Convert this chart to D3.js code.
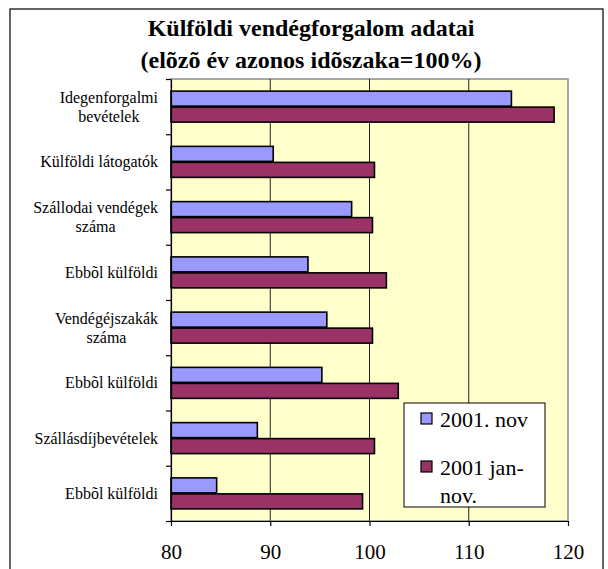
<!DOCTYPE html>
<html>
<head>
<meta charset="utf-8">
<style>
  body { margin: 0; background: #fff; }
</style>
<title>Külföldi vendégforgalom adatai</title>
</head>
<body>
<script src="https://cdn.jsdelivr.net/npm/d3@7"></script>
<script>
// chart data
var categories = ["Idegenforgalmi\nbevételek", "Külföldi látogatók", "Szállodai vendégek\nszáma",
                  "Ebbõl külföldi", "Vendégéjszakák\nszáma", "Ebbõl külföldi",
                  "Szállásdíjbevételek", "Ebbõl külföldi"];
var seriesNames = ["2001. nov", "2001 jan-\nnov."];
var novValues = [114.3, 90.3, 98.2, 93.8, 95.7, 95.2, 88.7, 84.6];
var janNovValues = [118.6, 100.5, 100.3, 101.7, 100.3, 102.9, 100.5, 99.3];
var xTicks = [80, 90, 100, 110, 120];
var colors = ["#9999ff", "#993366"];

var serif = "Liberation Serif";
var W = 608, H = 569;
var plot = {left: 171, right: 568, top: 79, bottom: 521};

var svg = d3.select("body").append("svg").attr("width", W).attr("height", H)
   .style("font-family", serif);

// outer frame
svg.append("rect").attr("x", 10).attr("y", 9).attr("width", 593).attr("height", 580)
   .attr("fill", "#fff").attr("stroke", "#000").attr("stroke-width", 1.2);

// title
var title = svg.append("text").attr("text-anchor", "middle")
   .style("font-family", serif).style("font-size", "24px").style("font-weight", "bold");
title.append("tspan").attr("x", 311).attr("y", 36).text("Külföldi vendégforgalom adatai");
title.append("tspan").attr("x", 311).attr("y", 68).text("(elõzõ év azonos idõszaka=100%)");

// scales
var x = d3.scaleLinear().domain([80, 120]).range([plot.left, plot.right]);
var y0 = d3.scaleBand().domain(d3.range(categories.length)).range([plot.top, plot.bottom]);
var y1 = d3.scaleBand().domain([0, 1]).range([0, y0.bandwidth()]).paddingOuter(0.727);
var yIdx = d3.scaleLinear().domain([0, categories.length]).range([plot.top, plot.bottom]);

// plot area
svg.append("rect").attr("x", plot.left).attr("y", plot.top)
   .attr("width", plot.right - plot.left).attr("height", plot.bottom - plot.top)
   .attr("fill", "#ffffcc").attr("stroke", "#8a8a8a").attr("stroke-width", 1.5);

// gridlines
svg.append("g").selectAll("line").data(xTicks.slice(1, -1)).join("line")
   .attr("x1", d => x(d)).attr("x2", d => x(d))
   .attr("y1", plot.top).attr("y2", plot.bottom)
   .attr("stroke", "#222").attr("stroke-width", 1);

// bars
var rows = categories.map((c, i) => ({i: i, vals: [novValues[i], janNovValues[i]]}));
var grp = svg.append("g").selectAll("g").data(rows).join("g")
   .attr("transform", d => "translate(0," + y0(d.i) + ")");
grp.selectAll("rect").data(d => d.vals.map((v, s) => ({s: s, v: v}))).join("rect")
   .attr("x", x(80))
   .attr("y", d => y1(d.s) + 0.5)
   .attr("width", d => x(d.v) - x(80))
   .attr("height", y1.bandwidth() - 1)
   .attr("fill", d => colors[d.s])
   .attr("stroke", "#000").attr("stroke-width", 1.6);

// y axis (ticks at category boundaries)
var yAxis = svg.append("g").attr("transform", "translate(" + plot.left + ",0)")
   .call(d3.axisLeft(yIdx).tickValues(d3.range(categories.length + 1))
   .tickFormat("").tickSizeInner(5).tickSizeOuter(0));
yAxis.selectAll("line, path").attr("stroke", "#000").attr("stroke-width", 1.2);

// category labels: lines centred in a block, block right edge at 158
var labelG = svg.append("g");
categories.forEach(function (c, i) {
  var lines = c.split("\n");
  var cy = y0(i) + y0.bandwidth() / 2;
  var t = labelG.append("text").attr("text-anchor", "middle")
     .style("font-family", serif).style("font-size", "16px").attr("fill", "#000");
  var spans = lines.map(function (l, k) {
    return t.append("tspan").attr("y", cy + (k - (lines.length - 1) / 2) * 19 + 5.5).text(l);
  });
  var maxW = d3.max(spans, s => s.node().getComputedTextLength());
  spans.forEach(s => s.attr("x", 158 - maxW / 2));
});

// x axis
var xAxis = svg.append("g").attr("transform", "translate(0," + plot.bottom + ")")
   .call(d3.axisBottom(x).tickValues(xTicks).tickSizeInner(5).tickSizeOuter(0).tickPadding(18));
xAxis.attr("font-family", null);
xAxis.selectAll("line, path").attr("stroke", "#000").attr("stroke-width", 1.2);
xAxis.selectAll("text").style("font-size", "21px").style("font-family", serif).attr("fill", "#000");

// legend
var lg = svg.append("g");
lg.append("rect").attr("x", 404).attr("y", 403).attr("width", 141).attr("height", 104)
  .attr("fill", "#fff").attr("stroke", "#000").attr("stroke-width", 1);
var legendY = [419, 467];
seriesNames.forEach(function (name, s) {
  lg.append("rect").attr("x", 421).attr("y", legendY[s] - 6).attr("width", 11).attr("height", 11)
    .attr("fill", colors[s]).attr("stroke", "#000").attr("stroke-width", 1.2);
  var t = lg.append("text").style("font-family", serif).style("font-size", "22px").attr("fill", "#000");
  name.split("\n").forEach(function (l, k) {
    t.append("tspan").attr("x", 440).attr("y", legendY[s] + 7.5 + k * 28).text(l);
  });
});
</script>
</body>
</html>
